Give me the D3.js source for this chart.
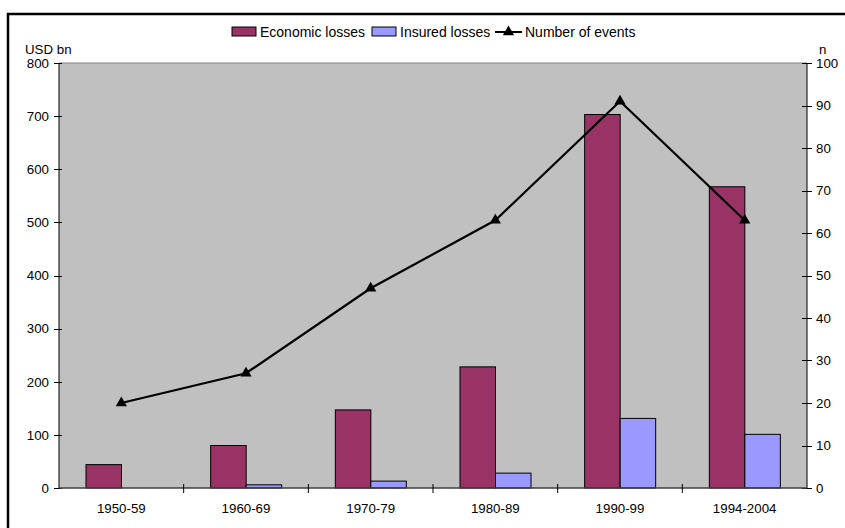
<!DOCTYPE html>
<html><head><meta charset="utf-8">
<script src="https://cdn.jsdelivr.net/npm/d3@7"></script>
<style>body{margin:0;background:#fff}svg{display:block;font-family:Arial,"Liberation Sans",sans-serif}</style>
</head><body><svg id="c" width="845" height="528"></svg>
<script>
const categories = ["1950-59","1960-69","1970-79","1980-89","1990-99","1994-2004"];
const economicLosses = [44, 80, 147, 228, 703, 567];
const insuredLosses = [0, 6, 13, 28, 131, 101];
const numberOfEvents = [20, 27, 47, 63, 91, 63];
const leftTicks = [0,100,200,300,400,500,600,700,800];
const rightTicks = [0,10,20,30,40,50,60,70,80,90,100];

const FS = 13.3;
const svg = d3.select("#c");
const L = 59, R = 807, T = 63, B = 488;

// outer frame
svg.append("path").attr("d","M8,530 V14 H850").attr("fill","none").attr("stroke","#000").attr("stroke-width",2.5);

const x = d3.scaleBand().domain(categories).range([L,R]);
const yL = d3.scaleLinear().domain([0,800]).range([B,T]);
const yR = d3.scaleLinear().domain([0,100]).range([B,T]);

svg.append("rect").attr("x",L).attr("y",T).attr("width",R-L).attr("height",B-T).attr("fill","#c0c0c0");
svg.append("line").attr("x1",L).attr("x2",R).attr("y1",T).attr("y2",T).attr("stroke","#808080").attr("stroke-width",1);

const bw = 35.5, off = 27;
const g = svg.append("g");
g.selectAll(".e").data(categories).join("rect")
  .attr("x",d=>x(d)+off).attr("y",(d,i)=>yL(economicLosses[i]))
  .attr("width",bw).attr("height",(d,i)=>B-yL(economicLosses[i]))
  .attr("fill","#993366").attr("stroke","#000").attr("stroke-width",1);
g.selectAll(".i").data(categories.filter((d,i)=>insuredLosses[i]>0)).join("rect")
  .attr("x",d=>x(d)+off+bw).attr("y",d=>yL(insuredLosses[categories.indexOf(d)]))
  .attr("width",bw).attr("height",d=>B-yL(insuredLosses[categories.indexOf(d)]))
  .attr("fill","#9999ff").attr("stroke","#000").attr("stroke-width",1);

// axes
const axL = d3.axisLeft(yL).tickValues(leftTicks).tickSize(0).tickPadding(10);
const gl = svg.append("g").attr("transform",`translate(${L},0)`).call(axL);
const axR = d3.axisRight(yR).tickValues(rightTicks).tickSize(0).tickPadding(9);
const gr = svg.append("g").attr("transform",`translate(${R},0)`).call(axR);
[gl,gr].forEach(a=>{a.select(".domain").remove();a.selectAll("text").attr("font-size",FS).attr("fill","#000").attr("font-family","Arial, 'Liberation Sans', sans-serif");});
svg.append("line").attr("x1",L).attr("x2",L).attr("y1",T).attr("y2",B).attr("stroke","#000");
svg.append("line").attr("x1",R).attr("x2",R).attr("y1",T).attr("y2",B).attr("stroke","#000");
svg.selectAll(".lt").data(leftTicks).join("line").attr("x1",L-5).attr("x2",L+3).attr("y1",d=>Math.round(yL(d))+0.5).attr("y2",d=>Math.round(yL(d))+0.5).attr("stroke","#000");
svg.selectAll(".rt").data(rightTicks).join("line").attr("x1",R-5).attr("x2",R+5).attr("y1",d=>Math.round(yR(d))+0.5).attr("y2",d=>Math.round(yR(d))+0.5).attr("stroke","#000");

// x axis
svg.append("line").attr("x1",L).attr("x2",R).attr("y1",B).attr("y2",B).attr("stroke","#404040").attr("stroke-width",1.5);
const xt = categories.slice(1).map(d=>x(d));
svg.selectAll(".xt").data(xt).join("line").attr("x1",d=>d).attr("x2",d=>d).attr("y1",B-4).attr("y2",B+5).attr("stroke","#000");
svg.selectAll(".xl").data(categories).join("text").attr("x",d=>x(d)+x.bandwidth()/2).attr("y",513)
  .attr("text-anchor","middle").attr("font-size",FS).text(d=>d);

// line
const line = d3.line().x((d,i)=>x(categories[i])+x.bandwidth()/2).y(d=>yR(d));
svg.append("path").attr("d",line(numberOfEvents)).attr("fill","none").attr("stroke","#000").attr("stroke-width",2.2);
const tri = d3.symbol().type(d3.symbolTriangle).size(55);
svg.selectAll(".m").data(numberOfEvents).join("path").attr("d",tri)
  .attr("transform",(d,i)=>`translate(${x(categories[i])+x.bandwidth()/2},${yR(d)})`).attr("fill","#000");

// axis titles
svg.append("text").attr("x",25).attr("y",54).attr("font-size",FS).text("USD bn");
svg.append("text").attr("x",819).attr("y",54).attr("font-size",FS).text("n");

// legend
const lg = svg.append("g");
lg.append("rect").attr("x",232).attr("y",27).attr("width",24).attr("height",9).attr("fill","#993366").attr("stroke","#000");
lg.append("text").attr("x",260).attr("y",37).attr("font-size",14).text("Economic losses");
lg.append("rect").attr("x",372).attr("y",27).attr("width",24).attr("height",9).attr("fill","#9999ff").attr("stroke","#000");
lg.append("text").attr("x",400).attr("y",37).attr("font-size",14).text("Insured losses");
lg.append("line").attr("x1",495).attr("x2",522).attr("y1",32).attr("y2",32).attr("stroke","#000").attr("stroke-width",2);
lg.append("path").attr("d",tri).attr("transform","translate(508.5,32)").attr("fill","#000");
lg.append("text").attr("x",525).attr("y",37).attr("font-size",14).text("Number of events");
</script></body></html>
